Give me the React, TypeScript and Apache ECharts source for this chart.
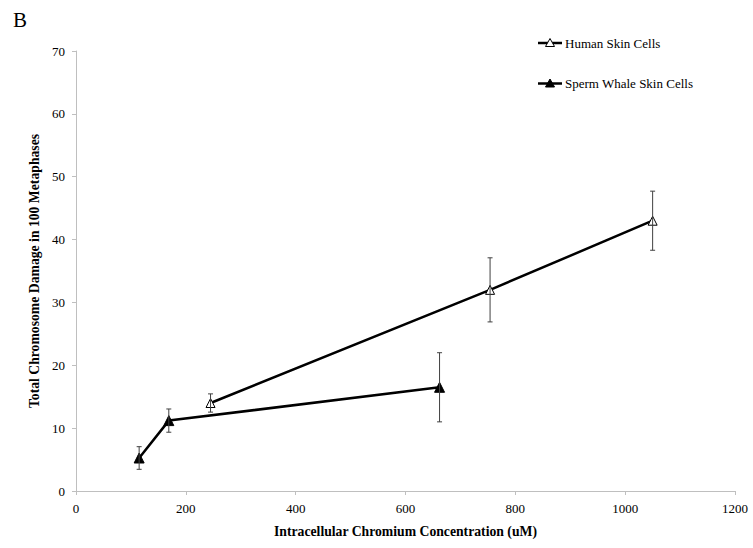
import React, { useEffect, useRef } from "react";
import * as echarts from "echarts";

const humanX = [245, 754, 1050];
const humanY = [14.0, 32.0, 43.0];
const humanErr = [1.45, 5.1, 4.7];

const whaleX = [115, 169, 662];
const whaleY = [5.25, 11.2, 16.5];
const whaleErr = [1.8, 1.85, 5.5];

const seriesNames = ["Human Skin Cells", "Sperm Whale Skin Cells"];
const panelLabel = "B";
const xTitle = "Intracellular Chromium Concentration (uM)";
const yTitle = "Total Chromosome Damage in 100 Metaphases";

const FONT = "Liberation Serif";

function errData(xs: number[], ys: number[], es: number[]) {
  return xs.map((x, i) => [x, ys[i] - es[i], ys[i] + es[i]]);
}

function renderErr(params: any, api: any) {
  const x = api.value(0);
  const lo = api.coord([x, api.value(1)]);
  const hi = api.coord([x, api.value(2)]);
  const w = 2.5;
  const style = { stroke: "#404040", lineWidth: 1 };
  return {
    type: "group",
    children: [
      { type: "line", shape: { x1: lo[0], y1: lo[1], x2: hi[0], y2: hi[1] }, style },
      { type: "line", shape: { x1: lo[0] - w, y1: lo[1], x2: lo[0] + w, y2: lo[1] }, style },
      { type: "line", shape: { x1: hi[0] - w, y1: hi[1], x2: hi[0] + w, y2: hi[1] }, style },
    ],
  };
}

function legendItem(name: string, y: number, fill: string) {
  const cx = 550;
  return [
    { type: "line", shape: { x1: 538, y1: y, x2: 562, y2: y }, style: { stroke: "#000", lineWidth: 2.5 } },
    {
      type: "polygon",
      shape: { points: [[cx, y - 4.5], [cx - 4.5, y + 3.5], [cx + 4.5, y + 3.5]] },
      style: { fill, stroke: "#000", lineWidth: 1 },
    },
    {
      type: "text",
      x: 565,
      y,
      style: { text: name, fontFamily: FONT, fontSize: 13, fill: "#000", verticalAlign: "middle", align: "left" },
    },
  ];
}

export default function App() {
  const ref = useRef<HTMLDivElement>(null);
  useEffect(() => {
    document.body.style.margin = "0";
    if (!ref.current) return;
    const chart = echarts.init(ref.current, undefined, { renderer: "svg" });
    const axisLine = { show: true, lineStyle: { color: "#bfbfbf", width: 1 } };
    const fmt = (v: number) => String(v);
    chart.setOption({
      animation: false,
      backgroundColor: "#ffffff",
      textStyle: { fontFamily: FONT },
      graphic: [
        {
          type: "text",
          left: 13,
          top: 9,
          style: { text: panelLabel, fontFamily: FONT, fontSize: 21, fill: "#000" },
        },
        ...legendItem(seriesNames[0], 43, "#ffffff"),
        ...legendItem(seriesNames[1], 83.5, "#000000"),
      ],
      grid: { left: 76, right: 18, top: 51, bottom: 57, containLabel: false },
      xAxis: {
        type: "value",
        min: 0,
        max: 1200,
        interval: 200,
        name: xTitle,
        nameLocation: "middle",
        nameGap: 33,
        nameTextStyle: { fontFamily: FONT, fontSize: 13.7, fontWeight: "bold", color: "#000" },
        axisLine,
        axisTick: { show: true, length: 4, lineStyle: { color: "#bfbfbf" } },
        axisLabel: { fontFamily: FONT, fontSize: 13, color: "#000", margin: 11, formatter: fmt },
        splitLine: { show: false },
      },
      yAxis: {
        type: "value",
        min: 0,
        max: 70,
        interval: 10,
        name: yTitle,
        nameLocation: "middle",
        nameGap: 30,
        nameRotate: 90,
        nameTextStyle: { fontFamily: FONT, fontSize: 13.7, fontWeight: "bold", color: "#000" },
        axisLine,
        axisTick: { show: true, length: 4, lineStyle: { color: "#bfbfbf" } },
        axisLabel: { fontFamily: FONT, fontSize: 13, color: "#000", margin: 11, formatter: fmt },
        splitLine: { show: false },
      },
      series: [
        {
          name: seriesNames[0],
          type: "line",
          data: humanX.map((x, i) => [x, humanY[i]]),
          symbol: "triangle",
          symbolSize: 9,
          lineStyle: { color: "#000", width: 2.5 },
          itemStyle: { color: "#ffffff", borderColor: "#000", borderWidth: 1 },
          z: 3,
        },
        {
          name: seriesNames[1],
          type: "line",
          data: whaleX.map((x, i) => [x, whaleY[i]]),
          symbol: "triangle",
          symbolSize: 10,
          lineStyle: { color: "#000", width: 2.5 },
          itemStyle: { color: "#000", borderColor: "#000", borderWidth: 1 },
          z: 3,
        },
        {
          type: "custom",
          renderItem: renderErr,
          data: errData(humanX, humanY, humanErr),
          z: 4,
          silent: true,
        },
        {
          type: "custom",
          renderItem: renderErr,
          data: errData(whaleX, whaleY, whaleErr),
          z: 4,
          silent: true,
        },
      ],
    });
    return () => chart.dispose();
  }, []);
  return <div ref={ref} style={{ width: 753, height: 548 }} />;
}
